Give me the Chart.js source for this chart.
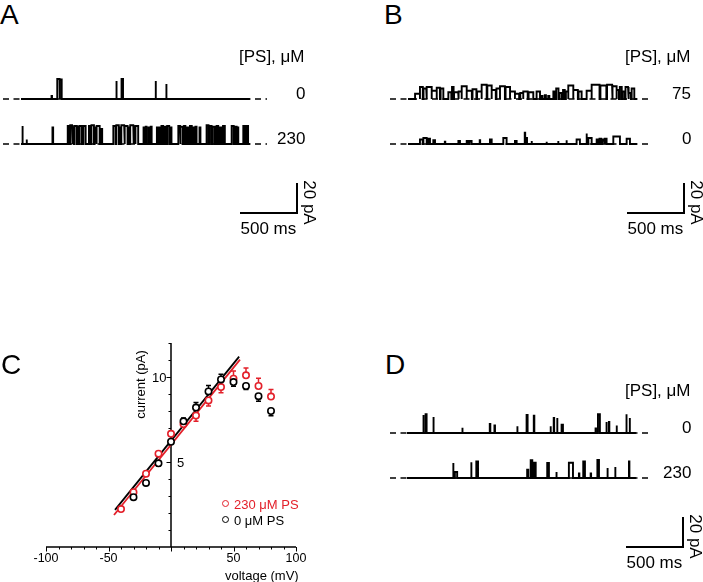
<!DOCTYPE html>
<html>
<head>
<meta charset="utf-8">
<script src="https://cdn.jsdelivr.net/npm/chart.js@4.4.1/dist/chart.umd.min.js"></script>
<style>
  body { margin: 0; width: 703px; height: 582px; background: #fff; position: relative; overflow: hidden;
         font-family: "Liberation Sans", Arial, sans-serif; }
  canvas { position: absolute; }
  .lbl { position: absolute; line-height: 1; white-space: nowrap; color: #000; }
  .dot { position: absolute; width: 5px; height: 5px; border-radius: 50%; border: 1.6px solid; background: #fff; }
</style>
</head>
<body>
<canvas id="ca" width="340" height="180" style="left:0;top:60px"></canvas>
<canvas id="cb" width="323" height="180" style="left:380px;top:60px"></canvas>
<canvas id="cc" width="340" height="252" style="left:0;top:330px"></canvas>
<canvas id="cd" width="323" height="182" style="left:380px;top:400px"></canvas>
<script>
// ---- single channel records: openings as [start ms, end ms, amplitude pA] ----
const traceA_0 = [[268,272,2],[318,338,13.3],[341,357,13],[834,840,12],[882,895,13.3],[1179,1184,12],[1273,1277,10]];
const traceA_230 = [
  [10,16,12],[48,52,3],[276,282,11],
  [410,425,12],[432,448,12.5],[455,462,11],[470,490,12],[497,505,11.5],[512,532,12],
  [547,567,12],
  [596,612,12],[618,640,12.5],[646,660,11],[665,690,12],[702,712,10],
  [810,830,12],[836,858,12.5],[864,872,11],[880,905,12.5],[912,935,12],[940,952,11],[958,985,12.5],[990,1000,11],[1006,1028,12],
  [1075,1082,11],[1094,1101,11.5],[1118,1126,11],[1138,1146,11.5],
  [1192,1200,11],[1210,1218,11],[1232,1246,12],[1258,1270,11.5],[1282,1300,12],[1308,1320,11],
  [1380,1395,12],[1402,1420,11.5],[1430,1442,12],[1450,1466,11],
  [1482,1498,12],[1510,1520,11],[1530,1540,11.5],[1566,1574,11],
  [1628,1645,12.5],[1655,1672,12],[1682,1700,11.5],
  [1716,1730,12],[1745,1760,11],[1772,1788,12],
  [1848,1866,12],[1876,1892,11.5],[1898,1906,11],[1950,1962,12],[1978,1992,12]
];
const traceB_75 = [
  [62,105,3.5],[105,130,8],[136,160,7],[166,208,8],[208,252,5.5],[252,280,7.5],[286,310,7],
  [354,380,4.5],[386,400,8],[404,440,4.5],[446,471,5],[471,515,8.5],
  [515,560,5.5],[566,600,6.5],[606,646,5],[646,690,9.5],[696,734,9],
  [734,770,6],[776,807,7],[807,850,8.5],[856,895,8],[895,938,5],
  [938,975,3.5],[985,1011,4],[1011,1050,5],[1058,1099,4.5],[1128,1158,5],
  [1170,1180,2],[1200,1210,2.5],[1230,1240,2],
  [1275,1290,5],[1300,1320,7],[1330,1350,4],[1360,1375,6],[1385,1406,5],[1406,1450,9],
  [1450,1490,6],[1496,1523,5],[1567,1611,5.5],
  [1611,1680,9.5],[1688,1740,9],[1746,1790,9.5],[1796,1830,8.5],
  [1830,1850,6],[1858,1875,8],[1882,1900,5],[1908,1930,8],[1938,1955,4],[1962,1985,7]
];
const traceB_0 = [
  [105,129,3],[135,164,4],[178,193,3.5],[222,237,2.5],[323,327,1.5],[442,456,2],
  [515,528,2],[540,558,2],[629,633,2.5],[719,734,3],[836,865,4],[938,953,2],
  [1024,1028,7.5],[1039,1044,4],[1083,1087,2],[1214,1218,1.5],[1316,1320,2],[1389,1393,2.5],
  [1479,1508,3],[1565,1569,7],[1582,1611,4],
  [1655,1670,3],[1680,1695,3.5],[1705,1720,3],[1728,1742,3.5],
  [1801,1859,5],[1918,1947,3.5]
];
const traceD_0 = [
  [141,147,12],[163,172,12.5],[229,235,10.7],[484,488,3.5],[726,731,6],[767,772,5],[966,970,4.5],
  [1049,1058,12],[1112,1117,11.5],[1258,1262,4.5],[1287,1291,10],[1316,1320,10],[1356,1368,5.5],
  [1654,1658,3],[1675,1692,12.5],[1748,1752,7.3],[1771,1775,7.3],[1836,1842,5],[1923,1927,12.5],[1952,1956,10]
];
const traceD_230 = [
  [404,408,10],[420,440,4],[562,566,10.5],[608,623,11],[1054,1064,5.5],[1085,1099,11.8],[1114,1129,10.2],
  [1230,1245,10],[1309,1313,4],[1420,1456,10.2],[1508,1512,3],[1546,1561,11],[1611,1615,3],
  [1670,1684,12],[1757,1761,6.7],[1825,1829,7.3],[1947,1951,11]
];
const traceDuration = 2008;   // ms
const scaleBarTime = 500;     // ms
const scaleBarCurrent = 20;   // pA
const concLabelsA = ['0', '230'];
const concLabelsB = ['75', '0'];
const concLabelsD = ['0', '230'];

// ---- I-V relation (panel C) ----
const voltage230 = [-40, -30, -20, -10, 0, 10, 20, 30, 40, 50, 60, 70, 80];
const current230 = [2.23, 3.22, 4.31, 5.49, 6.66, 7.23, 7.73, 8.62, 9.41, 9.9, 10.1, 9.47, 8.85];
const err230 = [0.1, 0.1, 0.1, 0.1, 0.1, -0.15, -0.33, -0.33, -0.33, 0.45, 0.43, 0.45, 0.41];
const voltage0 = [-30, -20, -10, 0, 10, 20, 30, 40, 50, 60, 70, 80];
const current0 = [2.93, 3.77, 4.92, 6.19, 7.39, 8.2, 9.15, 9.86, 9.7, 9.47, 8.87, 8.0];
const err0 = [-0.1, -0.1, -0.15, -0.15, 0.2, 0.3, 0.35, 0.3, -0.25, -0.2, -0.3, -0.28];
const fit230 = [[-45.6, 1.88], [55.2, 11.02]];
const fit0 = [[-44.8, 2.18], [54.5, 11.2]];
const xTickLabels = [-100, -50, 50, 100];
const yTickLabels = [5, 10];

const RED = '#e3202a';
const MS_PER_PX = 500 / 57;
const PA_PER_PX = 20 / 30;

function addText(text, x, cy, size, opts = {}) {
  const el = document.createElement('div');
  el.className = 'lbl';
  el.textContent = text;
  el.style.fontSize = size + 'px';
  if (opts.color) el.style.color = opts.color;
  document.body.appendChild(el);
  const w = el.offsetWidth, h = el.offsetHeight;
  let left = x;
  if (opts.align === 'right') left = x - w;
  if (opts.align === 'center' || opts.rotate) left = x - w / 2;
  el.style.left = left + 'px';
  el.style.top = (cy - h / 2) + 'px';
  if (opts.rotate) el.style.transform = 'rotate(' + opts.rotate + 'deg)';
  return el;
}

function toSteps(events, offset) {
  const pts = [{ x: 0, y: offset }];
  events.forEach(([t0, t1, amp]) => {
    pts.push({ x: t0, y: offset }, { x: t0, y: offset + amp }, { x: t1, y: offset + amp }, { x: t1, y: offset });
  });
  pts.push({ x: traceDuration, y: offset });
  return pts;
}

function tracePanel(p) {
  const cv = document.getElementById(p.id);
  const toMs = px => (px - p.traceX) * MS_PER_PX;
  const toPa = py => (p.base[0] - py) * PA_PER_PX;
  const off2 = toPa(p.base[1]);
  const b0 = toMs(p.bar[0]), by = toPa(p.bar[1]);
  const line = (data, extra) => Object.assign({
    data, borderColor: '#000', borderWidth: 1.9, pointRadius: 0, tension: 0, clip: false, order: 0
  }, extra);
  new Chart(cv, {
    type: 'line',
    data: {
      datasets: [
        line(toSteps(p.traces[0], 0)),
        line(toSteps(p.traces[1], off2)),
        line([{ x: toMs(p.dash[0]), y: 0 }, { x: toMs(p.dash[1]), y: 0 }], { borderWidth: 1.4, borderDash: [6, 4.5], order: 1 }),
        line([{ x: toMs(p.dash[0]), y: off2 }, { x: toMs(p.dash[1]), y: off2 }], { borderWidth: 1.4, borderDash: [6, 4.5], order: 1 }),
        line([{ x: b0, y: by }, { x: b0 + scaleBarTime, y: by }, { x: b0 + scaleBarTime, y: by + scaleBarCurrent }],
             { borderWidth: 2, borderJoinStyle: 'miter' })
      ]
    },
    options: {
      responsive: false, animation: false, events: [],
      layout: { padding: 0 },
      plugins: { legend: { display: false }, tooltip: { enabled: false } },
      scales: {
        x: { type: 'linear', display: false, min: toMs(p.left), max: toMs(p.left + p.w) },
        y: { type: 'linear', display: false, min: toPa(p.top + p.h), max: toPa(p.top) }
      }
    }
  });
  const barEnd = p.bar[0] + scaleBarTime / MS_PER_PX;
  addText(scaleBarTime + ' ms', (p.bar[0] + barEnd) / 2, p.bar[1] + 15, 17, { align: 'center' });
  addText(scaleBarCurrent + ' pA', barEnd + 12, p.bar[1] - 11, 17, { rotate: 90 });
  addText('[PS], \u03bcM', p.labelX, p.base[0] - 43, 17, { align: 'right' });
  addText(p.conc[0], p.labelX, p.base[0] - 6, 17, { align: 'right' });
  addText(p.conc[1], p.labelX, p.base[1] - 6, 17, { align: 'right' });
}

tracePanel({ id: 'ca', left: 0, top: 60, w: 340, h: 180, traceX: 21, base: [99, 144], dash: [3, 267],
             bar: [240, 213], labelX: 305, conc: concLabelsA, traces: [traceA_0, traceA_230] });
tracePanel({ id: 'cb', left: 380, top: 60, w: 323, h: 180, traceX: 408, base: [99, 144], dash: [390, 652],
             bar: [627, 213], labelX: 691, conc: concLabelsB, traces: [traceB_75, traceB_0] });
tracePanel({ id: 'cd', left: 380, top: 400, w: 323, h: 182, traceX: 407, base: [433, 478], dash: [390, 652],
             bar: [626, 547], labelX: 691, conc: concLabelsD, traces: [traceD_0, traceD_230] });

// ---- panel C ----
const ivAxes = {
  id: 'ivAxes',
  beforeDatasetsDraw(chart) {
    const { ctx, scales: { x, y } } = chart;
    const x0 = x.getPixelForValue(0), y0 = y.getPixelForValue(0);
    ctx.save();
    ctx.strokeStyle = '#000';
    ctx.lineWidth = 1.5;
    ctx.beginPath();
    ctx.moveTo(x.getPixelForValue(-100), y0); ctx.lineTo(x.getPixelForValue(100), y0);
    ctx.moveTo(x0, y0); ctx.lineTo(x0, y.getPixelForValue(12));
    ctx.stroke();
    ctx.lineWidth = 1;
    ctx.beginPath();
    for (let v = -100; v <= 100; v += 10) {
      const px = Math.round(x.getPixelForValue(v)) + 0.5;
      ctx.moveTo(px, y0); ctx.lineTo(px, y0 + (v % 50 === 0 ? 4.5 : 2.5));
    }
    for (let v = 1; v <= 12; v++) {
      const py = Math.round(y.getPixelForValue(v)) + 0.5;
      ctx.moveTo(x0, py); ctx.lineTo(x0 - (v % 5 === 0 ? 4.5 : 2.5), py);
    }
    ctx.stroke();
    // error bars, under the open circles
    [[voltage230, current230, err230, RED], [voltage0, current0, err0, '#000']].forEach(([vs, cs, es, col]) => {
      ctx.strokeStyle = col;
      ctx.lineWidth = 1.5;
      ctx.beginPath();
      vs.forEach((v, i) => {
        const px = x.getPixelForValue(v);
        const ya = y.getPixelForValue(cs[i]), yb = y.getPixelForValue(cs[i] + es[i]);
        ctx.moveTo(px, ya); ctx.lineTo(px, yb);
        ctx.moveTo(px - 2.5, yb); ctx.lineTo(px + 2.5, yb);
      });
      ctx.stroke();
    });
    ctx.restore();
  }
};

const toPts = (xs, ys) => xs.map((v, i) => ({ x: v, y: ys[i] }));
const ivChart = new Chart(document.getElementById('cc'), {
  type: 'scatter',
  data: {
    datasets: [
      { data: toPts(voltage0, current0), borderColor: '#000', backgroundColor: '#fff', pointRadius: 3.2, borderWidth: 1.6, order: 0 },
      { data: toPts(voltage230, current230), borderColor: RED, backgroundColor: '#fff', pointRadius: 3.2, borderWidth: 1.6, order: 1 },
      { type: 'line', data: fit0.map(([a, b]) => ({ x: a, y: b })), borderColor: '#000', borderWidth: 1.8, pointRadius: 0, order: 2 },
      { type: 'line', data: fit230.map(([a, b]) => ({ x: a, y: b })), borderColor: RED, borderWidth: 1.8, pointRadius: 0, order: 3 }
    ]
  },
  options: {
    responsive: false, animation: false, events: [],
    layout: { padding: { left: 46, right: 44, top: 13, bottom: 35 } },
    plugins: { legend: { display: false }, tooltip: { enabled: false } },
    scales: {
      x: { type: 'linear', display: false, min: -100, max: 100 },
      y: { type: 'linear', display: false, min: 0, max: 12 }
    }
  },
  plugins: [ivAxes]
});

const sx = ivChart.scales.x, sy = ivChart.scales.y;
const cTop = 330;
xTickLabels.forEach(v => addText(String(v), sx.getPixelForValue(v), cTop + sy.getPixelForValue(0) + 11, 12.5, { align: 'center' }));
addText(String(yTickLabels[0]), sx.getPixelForValue(0) + 6, cTop + sy.getPixelForValue(yTickLabels[0]), 13);
addText(String(yTickLabels[1]), sx.getPixelForValue(0) - 5, cTop + sy.getPixelForValue(yTickLabels[1]), 13, { align: 'right' });
addText('voltage (mV)', 299, 575, 13, { align: 'right' });
addText('current (pA)', 140, 384, 13, { rotate: -90 });

function legendRow(text, color, cy) {
  const d = document.createElement('div');
  d.className = 'dot';
  d.style.borderColor = color;
  d.style.left = '222px';
  d.style.top = (cy - 4) + 'px';
  document.body.appendChild(d);
  addText(text, 234, cy, 13, { color });
}
legendRow('230 \u03bcM PS', RED, 504);
legendRow('0 \u03bcM PS', '#000', 520);

// panel letters
addText('A', 0, 15, 28);
addText('B', 384, 15, 28);
addText('C', 1, 365, 28);
addText('D', 385, 365, 28);
</script>
</body>
</html>
